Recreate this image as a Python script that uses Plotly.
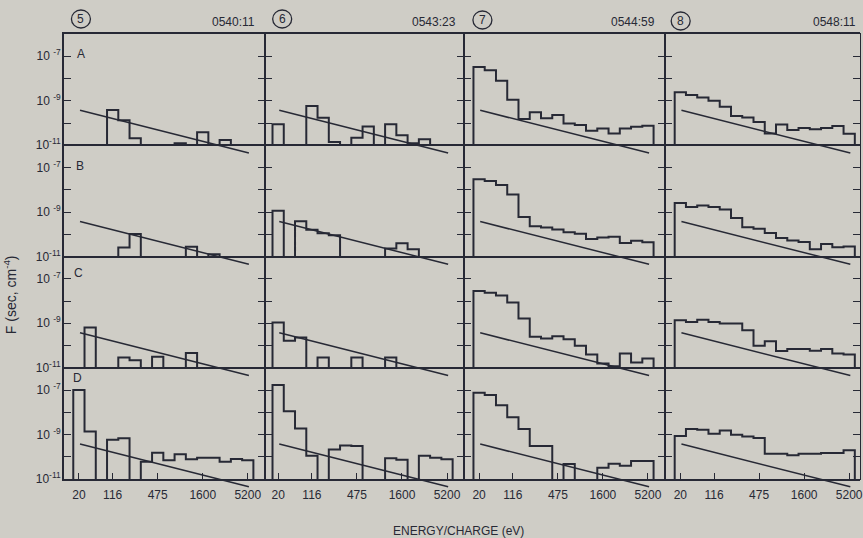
import plotly.graph_objects as go

# ---------------- data ----------------
N_CHANNELS = 16
ENERGY_TICK_LABELS = ["20", "116", "475", "1600", "5200"]
ENERGY_TICK_CHANNELS = [0, 3, 7, 11, 15]
PANEL_NUMBERS = ["5", "6", "7", "8"]
PANEL_TIMES = ["0540:11", "0543:23", "0544:59", "0548:11"]
ROW_LETTERS = ["A", "B", "C", "D"]
Y_MAJOR_EXPONENTS = [-11, -9, -7]
Y_MINOR_EXPONENTS = [-10, -8]

# log10 F per energy channel; None = empty channel
LOG10_F_5A = [None, None, None, -9.42, -9.88, -10.69, None, None, None, -10.91, None, -10.42, None, -10.76, None, None]
LOG10_F_5B = [None, None, None, None, -10.60, -9.99, None, None, None, None, -10.56, None, -10.90, None, None, None]
LOG10_F_5C = [None, -9.19, None, None, -10.54, -10.66, None, -10.51, None, None, -10.34, None, None, None, None, None]
LOG10_F_5D = [-7.00, -8.87, None, -9.24, -9.17, None, -10.23, -9.82, -10.16, -9.89, -10.11, -10.04, -10.04, -10.23, -10.10, -10.16]

LOG10_F_6A = [-10.06, None, None, -9.24, -9.76, -10.85, None, -10.66, -10.16, None, -10.06, -10.55, -10.91, -10.73, None, None]
LOG10_F_6B = [-8.94, None, -9.42, -9.80, -9.95, -10.04, None, None, None, None, -10.64, -10.40, -10.67, None, None, None]
LOG10_F_6C = [-8.97, -9.79, -9.64, None, -10.54, None, None, -10.54, None, None, -10.54, None, None, None, None, None]
LOG10_F_6D = [-6.78, -7.96, -8.73, -9.96, None, -9.67, -9.49, -9.52, None, None, -10.07, -10.14, None, -9.96, -10.04, -10.11]

LOG10_F_7A = [-7.48, -7.63, -8.10, -8.96, -9.82, -9.52, -9.79, -9.64, -10.02, -10.09, -10.35, -10.25, -10.47, -10.25, -10.17, -10.12]
LOG10_F_7B = [-7.53, -7.61, -7.79, -8.21, -9.23, -9.64, -9.70, -9.79, -9.91, -9.98, -10.21, -10.15, -10.11, -10.39, -10.29, -10.36]
LOG10_F_7C = [-7.55, -7.63, -7.75, -8.07, -8.79, -9.61, -9.69, -9.58, -9.72, -10.01, -10.40, -10.81, -10.93, -10.36, -10.76, -10.58]
LOG10_F_7D = [-7.12, -7.22, -7.68, -8.23, -8.75, -9.52, -9.52, None, -10.33, None, None, -10.50, -10.32, -10.41, -10.19, -10.19]

LOG10_F_8A = [-8.62, -8.74, -8.85, -9.00, -9.27, -9.68, -9.75, -9.95, -10.47, -10.07, -10.32, -10.22, -10.28, -10.22, -10.14, -10.48]
LOG10_F_8B = [-8.59, -8.78, -8.71, -8.78, -8.89, -9.27, -9.69, -9.75, -9.94, -10.17, -10.28, -10.35, -10.67, -10.44, -10.58, -10.55]
LOG10_F_8C = [-8.87, -8.94, -8.84, -8.94, -9.01, -9.01, -9.31, -10.01, -9.81, -10.25, -10.16, -10.16, -10.24, -10.16, -10.36, -10.40]
LOG10_F_8D = [-9.07, -8.75, -8.79, -8.97, -8.82, -9.01, -9.09, -9.16, -9.86, -9.86, -9.93, -9.86, -9.86, -9.83, -9.83, -9.71]

# reference line, same in every panel: channel position, log10 F
REF_LINE_CHANNEL = [0.6, 15.6]
REF_LINE_LOG10_F = [-9.43, -11.35]

PANELS = [
    [LOG10_F_5A, LOG10_F_6A, LOG10_F_7A, LOG10_F_8A],
    [LOG10_F_5B, LOG10_F_6B, LOG10_F_7B, LOG10_F_8B],
    [LOG10_F_5C, LOG10_F_6C, LOG10_F_7C, LOG10_F_8C],
    [LOG10_F_5D, LOG10_F_6D, LOG10_F_7D, LOG10_F_8D],
]
EMPTY_LEVEL = -12.0  # below the axis floor: empty channels fall to the baseline

# ---------------- layout geometry (pixels) ----------------
W, H = 863, 538
ML, MT, MR = 64, 34, 0
PB = 494                      # bottom of plotting paper
PW, PH = W - ML - MR, PB - MT
COL_PX = [64, 266, 466, 667, 863]
ROW_PX = [34, 145.25, 256.5, 367.75, 479]
CH_PX = 11.3
COL_FIRST_CH_PX = [73.3, 273.3, 475, 677]
EXT_PX = 12                   # reference line may run a little past the panel bottom

INK = "#272935"
BG = "#cfcdc6"
FONT = "Liberation Sans, Arial, Helvetica, sans-serif"
AX_LW = 1.0


def px_x(px):
    return (px - ML) / PW


def px_y(py):
    return (PB - py) / PH


fig = go.Figure()
layout = {}

for r in range(4):
    for c in range(4):
        k = r * 4 + c
        ia, il = k + 1, k + 17
        sa, sl = ("" if ia == 1 else str(ia)), str(il)
        xr = [-(COL_FIRST_CH_PX[c] - COL_PX[c]) / CH_PX, (COL_PX[c + 1] - COL_FIRST_CH_PX[c]) / CH_PX]
        xdom = [px_x(COL_PX[c]), px_x(COL_PX[c + 1])]
        ydom = [px_y(ROW_PX[r + 1]), px_y(ROW_PX[r])]
        dec_px = (ROW_PX[r + 1] - ROW_PX[r]) / 5.0
        ext = min(EXT_PX, PB - ROW_PX[r + 1])
        ydom_l = [max(0.0, px_y(ROW_PX[r + 1] + ext)), ydom[1]]

        bottom = (r == 3)
        xa = dict(
            domain=xdom, range=xr, anchor="y" + sa,
            showline=True, mirror=True, linecolor=INK, linewidth=AX_LW,
            showgrid=False, zeroline=False, fixedrange=True,
        )
        if bottom:
            xa.update(
                ticks="inside", ticklen=6, tickwidth=1.2, tickcolor=INK,
                tickvals=[ch + 0.5 for ch in ENERGY_TICK_CHANNELS],
                ticktext=ENERGY_TICK_LABELS, showticklabels=True,
                ticklabelstandoff=5, ticklabeloverflow="allow",
                tickfont=dict(size=12, color=INK, family=FONT),
            )
        else:
            xa.update(ticks="", showticklabels=False)
        layout["xaxis" + sa] = xa

        ytext = [("10<sup>%d</sup>" if e == -11 else "10 <sup>%d</sup>") % e for e in Y_MAJOR_EXPONENTS]
        layout["yaxis" + sa] = dict(
            domain=ydom, type="log", range=[-11, -6], anchor="x" + sa,
            showline=True, mirror="allticks", linecolor=INK, linewidth=AX_LW,
            showgrid=False, zeroline=False, fixedrange=True,
            ticks="inside", ticklen=7, tickwidth=1.2, tickcolor=INK,
            tickvals=[10.0 ** e for e in Y_MAJOR_EXPONENTS], ticktext=ytext,
            minor=dict(ticks="inside", ticklen=7, tickwidth=1.2, tickcolor=INK,
                       tickvals=[10.0 ** e for e in Y_MINOR_EXPONENTS], showgrid=False),
            showticklabels=(c == 0), ticklabeloverflow="allow",
            tickfont=dict(size=12, color=INK, family=FONT),
        )
        layout["xaxis" + sl] = dict(domain=xdom, range=xr, anchor="y" + sl, visible=False, fixedrange=True)
        layout["yaxis" + sl] = dict(domain=ydom_l, type="log", range=[-11 - ext / dec_px, -6],
                                    anchor="x" + sl, visible=False, fixedrange=True)

        vals = PANELS[r][c]
        lv = [EMPTY_LEVEL if v is None else v for v in vals]
        xs = [0] + list(range(N_CHANNELS)) + [N_CHANNELS, N_CHANNELS]
        ys = [EMPTY_LEVEL] + lv + [lv[-1], EMPTY_LEVEL]
        fig.add_trace(go.Scatter(
            x=xs, y=[10.0 ** v for v in ys], mode="lines", line=dict(shape="hv", color=INK, width=2.0),
            xaxis="x" + sa, yaxis="y" + sa, hoverinfo="skip", showlegend=False,
        ))
        fig.add_trace(go.Scatter(
            x=REF_LINE_CHANNEL, y=[10.0 ** v for v in REF_LINE_LOG10_F], mode="lines",
            line=dict(color=INK, width=1.5),
            xaxis="x" + sl, yaxis="y" + sl, hoverinfo="skip", showlegend=False,
        ))

annotations = []
shapes = []

# thicker outer frame (interior borders are two abutting axis lines)
shapes.append(dict(type="line", xref="paper", yref="paper", x0=px_x(COL_PX[0] - 2), x1=1.0,
                   y0=px_y(ROW_PX[0] - 1.5), y1=px_y(ROW_PX[0] - 1.5), line=dict(color=INK, width=1)))
shapes.append(dict(type="line", xref="paper", yref="paper", x0=px_x(COL_PX[0] - 1.5), x1=px_x(COL_PX[0] - 1.5),
                   y0=px_y(ROW_PX[-1] + 2), y1=px_y(ROW_PX[0] - 2), line=dict(color=INK, width=1)))
shapes.append(dict(type="line", xref="paper", yref="paper", x0=px_x(COL_PX[0] - 2), x1=1.0,
                   y0=px_y(ROW_PX[-1] + 1.5), y1=px_y(ROW_PX[-1] + 1.5), line=dict(color=INK, width=1)))

CIRCLE_PX = [(81, 19), (283, 19), (484, 20), (683, 21)]
TIME_PX = [(258, 22), (459, 22), (659, 22), (861, 22)]
for c in range(4):
    cx, cy = CIRCLE_PX[c]
    shapes.append(dict(type="circle", xref="paper", yref="paper", xsizemode="pixel", ysizemode="pixel",
                       xanchor=px_x(cx), yanchor=px_y(cy), x0=-9.5, x1=9.5, y0=-9, y1=9,
                       line=dict(color=INK, width=1.3)))
    annotations.append(dict(text=PANEL_NUMBERS[c], x=px_x(cx), y=px_y(cy), xref="paper", yref="paper",
                            showarrow=False, xanchor="center", yanchor="middle",
                            font=dict(size=12, color=INK, family=FONT)))
    tx, ty = TIME_PX[c]
    annotations.append(dict(text=PANEL_TIMES[c], x=px_x(tx), y=px_y(ty), xref="paper", yref="paper",
                            showarrow=False, xanchor="right", yanchor="middle",
                            font=dict(size=12, color=INK, family=FONT)))

LETTER_PX = [(81, 54), (80, 166), (79, 273), (78, 378)]
for r in range(4):
    lx, ly = LETTER_PX[r]
    annotations.append(dict(text=ROW_LETTERS[r], x=px_x(lx), y=px_y(ly), xref="paper", yref="paper",
                            showarrow=False, xanchor="center", yanchor="middle",
                            font=dict(size=12, color=INK, family=FONT)))

annotations.append(dict(text="F (sec, cm<sup>-4</sup>)", x=px_x(10), y=px_y(295), xref="paper", yref="paper",
                        showarrow=False, textangle=-90, xanchor="center", yanchor="middle",
                        font=dict(size=14, color=INK, family=FONT)))
annotations.append(dict(text="ENERGY/CHARGE (eV)", x=px_x(460), y=px_y(531), xref="paper", yref="paper",
                        showarrow=False, xanchor="center", yanchor="middle",
                        font=dict(size=12, color=INK, family=FONT)))

fig.update_layout(
    width=W, height=H,
    margin=dict(l=ML, r=MR, t=MT, b=H - PB, pad=0),
    paper_bgcolor=BG, plot_bgcolor="rgba(0,0,0,0)",
    showlegend=False, annotations=annotations, shapes=shapes,
    **layout,
)

fig.write_html("out.html", config={"displayModeBar": False},
               post_script="document.body.style.margin='0px';document.body.style.background='%s';" % BG)
